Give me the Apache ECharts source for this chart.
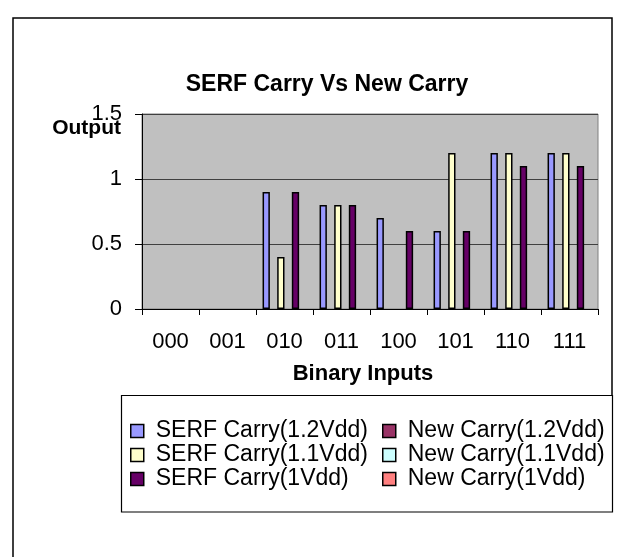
<!DOCTYPE html>
<html>
<head>
<meta charset="utf-8">
<script src="https://cdn.jsdelivr.net/npm/echarts@6/dist/echarts.min.js"></script>
<style>
html,body{margin:0;padding:0;background:#fff;}
#chart{width:618px;height:557px;}
</style>
</head>
<body>
<div id="chart"></div>
<script>
const categories = ['000','001','010','011','100','101','110','111'];
const serfCarry12 = [0, 0, 0.9, 0.8, 0.7, 0.6, 1.2, 1.2];
const newCarry12  = [0, 0, 0, 0, 0, 0, 0, 0];
const serfCarry11 = [0, 0, 0.4, 0.8, 0, 1.2, 1.2, 1.2];
const newCarry11  = [0, 0, 0, 0, 0, 0, 0, 0];
const serfCarry1  = [0, 0, 0.9, 0.8, 0.6, 0.6, 1.1, 1.1];
const newCarry1   = [0, 0, 0, 0, 0, 0, 0, 0];
const seriesNames = ['SERF Carry(1.2Vdd)','New Carry(1.2Vdd)','SERF Carry(1.1Vdd)','New Carry(1.1Vdd)','SERF Carry(1Vdd)','New Carry(1Vdd)'];
const seriesValues = [serfCarry12, newCarry12, serfCarry11, newCarry11, serfCarry1, newCarry1];
const seriesColors = ['#9999FF','#993366','#FFFFCC','#CCFFFF','#660066','#FF8080'];
const yTicks = [0, 0.5, 1, 1.5];

const FONT = '"Liberation Sans", Arial, sans-serif';
const chart = echarts.init(document.getElementById('chart'), null, {renderer:'canvas', width:618, height:557});

const series = seriesNames.map((name, i) => ({
  name: name,
  type: 'bar',
  // zero-height bars get no outline (Excel draws nothing for them)
  data: seriesValues[i].map(v => v === 0 ? { value: v, itemStyle: { borderWidth: 0 } } : v),
  barGap: '0%',
  barCategoryGap: '23%',
  itemStyle: { color: seriesColors[i], borderColor: '#000', borderWidth: 1.5 },
  emphasis: { disabled: true },
  animation: false
}));

const legendText = { fontFamily: FONT, fontSize: 23, color: '#000', lineHeight: 24, padding: [0,0,0,7] };

chart.setOption({
  backgroundColor: '#fff',
  animation: false,
  title: [
    {
      text: 'SERF Carry Vs New Carry',
      left: 327, top: 73, textAlign: 'center', padding: 0,
      textStyle: { fontFamily: FONT, fontSize: 23, fontWeight: 'bold', color: '#000' }
    },
    {
      text: 'Output',
      left: 121, top: 118, textAlign: 'right', padding: 0,
      textStyle: { fontFamily: FONT, fontSize: 21, fontWeight: 'bold', color: '#000' }
    }
  ],
  grid: {
    left: 142, top: 114, width: 456, height: 195,
    show: true, backgroundColor: '#C0C0C0', borderColor: '#808080', borderWidth: 1
  },
  legend: [
    {
      data: [seriesNames[0], seriesNames[2], seriesNames[4]],
      orient: 'vertical', left: 130, top: 419, padding: 0, itemGap: 0,
      icon: 'rect', itemWidth: 13, itemHeight: 13, textStyle: legendText, selectedMode: false,
      itemStyle: { borderColor: '#000', borderWidth: 1.5 }
    },
    {
      data: [seriesNames[1], seriesNames[3], seriesNames[5]],
      orient: 'vertical', left: 382, top: 419, padding: 0, itemGap: 0,
      icon: 'rect', itemWidth: 13, itemHeight: 13, textStyle: legendText, selectedMode: false,
      itemStyle: { borderColor: '#000', borderWidth: 1.5 }
    }
  ],
  xAxis: {
    type: 'category',
    data: categories,
    name: 'Binary Inputs',
    nameLocation: 'middle',
    nameGap: 65,
    nameTextStyle: { fontFamily: FONT, fontSize: 22, fontWeight: 'bold', color: '#000', verticalAlign: 'middle', padding: [0,14,0,0] },
    axisLine: { lineStyle: { color: '#000', width: 1 } },
    axisTick: { show: true, alignWithLabel: false, length: 6, lineStyle: { color: '#000' } },
    axisLabel: { fontFamily: FONT, fontSize: 22, color: '#000', margin: 22 },
    splitLine: { show: false }
  },
  yAxis: {
    type: 'value',
    min: yTicks[0], max: yTicks[yTicks.length-1], interval: yTicks[1]-yTicks[0],
    axisLine: { show: true, lineStyle: { color: '#000', width: 1 } },
    axisTick: { show: true, length: 7, lineStyle: { color: '#000' } },
    axisLabel: { fontFamily: FONT, fontSize: 22, color: '#000', margin: 20 },
    splitLine: { show: true, lineStyle: { color: '#404040', width: 1 } }
  },
  series: series,
  graphic: [
    { type: 'polyline', shape: { points: [[13, 600], [13, 18], [612, 18], [612, 395]] }, style: { stroke: '#000', lineWidth: 1.5, fill: null }, silent: true },
    { type: 'rect', shape: { x: 121.5, y: 395.5, width: 491, height: 116.5 }, style: { stroke: '#000', lineWidth: 1.2, fill: null }, silent: true }
  ]
});
</script>
</body>
</html>
